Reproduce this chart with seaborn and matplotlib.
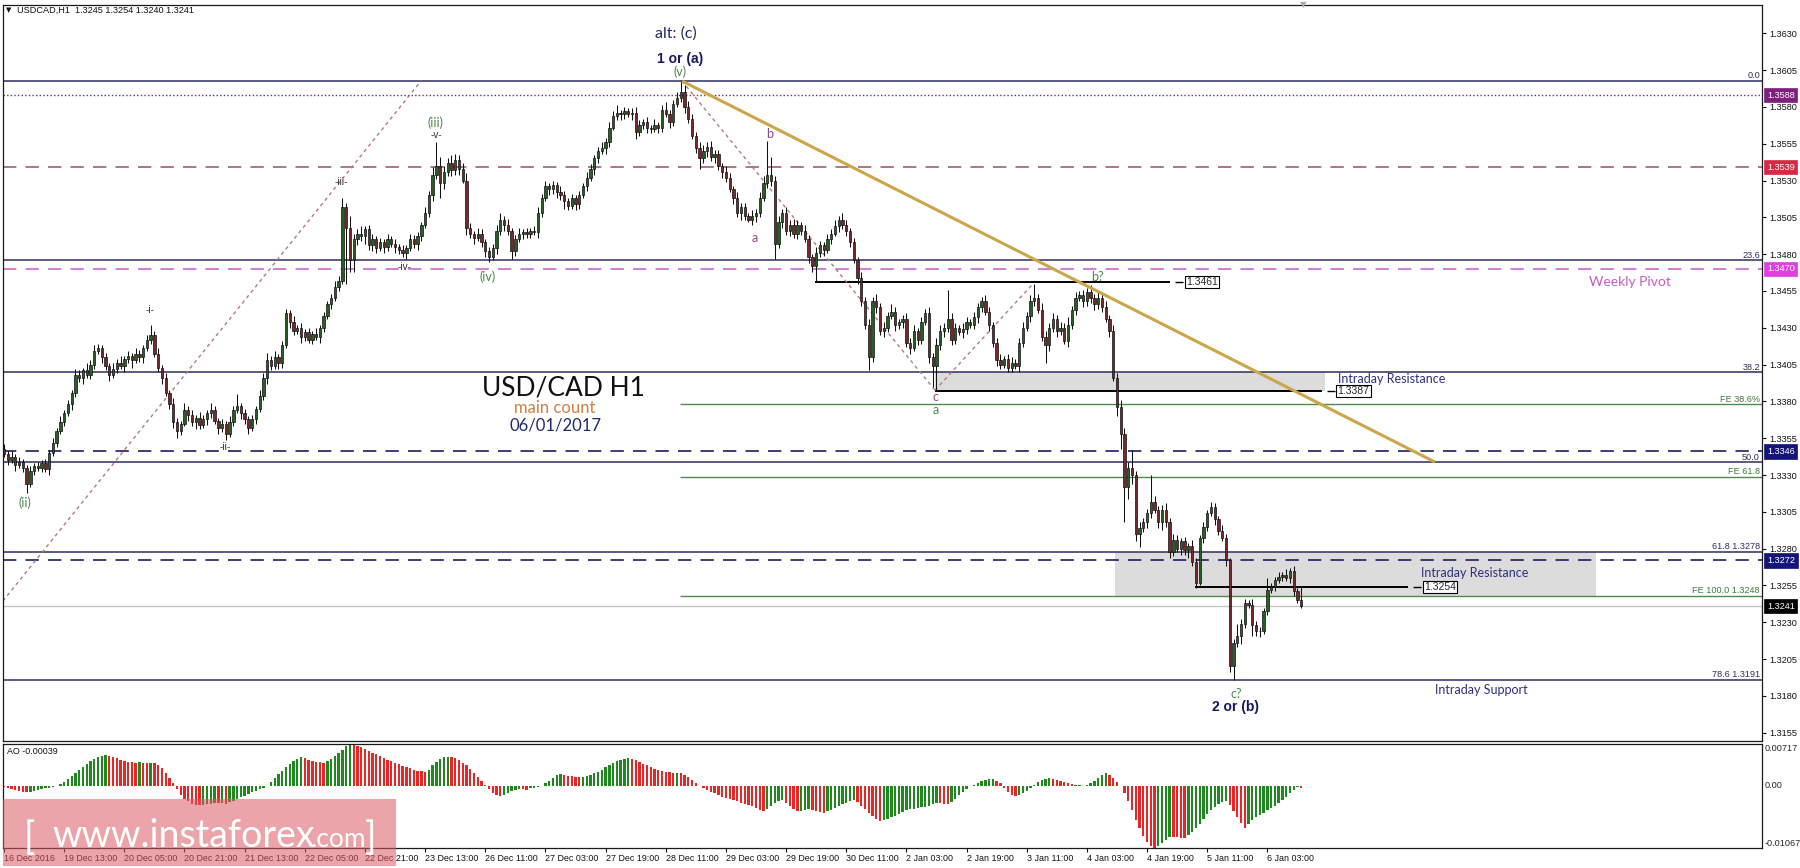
import numpy as np
import pandas as pd
import matplotlib
matplotlib.use("Agg")
import matplotlib.pyplot as plt
import matplotlib.transforms as mtransforms
from matplotlib.patches import Rectangle
import seaborn as sns

sns.set_theme(style="ticks")
plt.rcParams["font.family"] = ["Liberation Sans", "DejaVu Sans"]

# ---------------- data: H1 candles, prices as pips above 1.3000 ----------------
open_first = 348
close_pips = [
    344, 340, 342, 337, 339, 335, 324, 333, 336, 335,
    338, 334, 345, 352, 360, 366, 372, 378, 386, 398,
    396, 401, 398, 405, 414, 416, 410, 404, 398, 402,
    406, 404, 409, 411, 408, 412, 410, 416, 422, 425,
    412, 403, 396, 386, 378, 366, 360, 365, 374, 371,
    366, 369, 364, 368, 372, 374, 367, 362, 365, 358,
    366, 374, 377, 372, 368, 362, 368, 375, 384, 396,
    408, 404, 410, 406, 418, 440, 434, 428, 430, 424,
    427, 422, 426, 424, 430, 438, 446, 450, 458, 462,
    512, 498, 476, 490, 494, 492, 497, 486, 490, 484,
    488, 485, 490, 487, 485, 483, 481, 484, 490, 487,
    492, 500, 508, 520, 534, 540, 528, 536, 542, 537,
    544, 538, 530, 498, 494, 491, 494, 488, 482, 478,
    484, 496, 503, 500, 496, 482, 490, 494, 495, 494,
    496, 495, 508, 518, 526, 524, 527, 522, 520, 516,
    513, 518, 514, 520, 526, 532, 538, 545, 550, 552,
    556, 566, 574, 576, 575, 577, 575, 576, 563, 568,
    570, 566, 565, 568, 566, 578, 575, 570, 582, 586,
    590, 580, 572, 560, 552, 545, 550, 553, 546, 548,
    540, 536, 532, 524, 518, 508, 512, 506, 503, 506,
    508, 518, 528, 534, 530, 487, 502, 508, 496, 500,
    494, 500, 496, 490, 478, 472, 481, 486, 483, 490,
    494, 499, 503, 500, 496, 488, 476, 464, 448, 432,
    410, 448, 444, 428, 430, 438, 441, 432, 434, 436,
    420, 416, 428, 422, 434, 440, 410, 404, 418, 428,
    430, 436, 422, 430, 427, 429, 434, 432, 437, 444,
    448, 441, 432, 420, 408, 405, 409, 403, 406, 404,
    420, 430, 438, 448, 450, 442, 424, 418, 430, 436,
    428, 430, 421, 432, 442, 450, 452, 448, 454, 450,
    446, 450, 444, 436, 428, 396, 376, 358, 322, 335,
    330, 290, 294, 298, 304, 312, 306, 298, 306, 298,
    278, 286, 280, 285, 279, 282, 271, 257, 287, 295,
    304, 308, 300, 292, 287, 272, 200, 216, 221, 229,
    243, 242, 228, 224, 224, 238, 252, 254, 259, 261,
    262, 260, 265, 251, 245, 241,
]
wick_up = [
    3, 2, 4, 2, 3, 2, 2, 3, 2, 3,
    2, 3, 2, 3, 2, 4, 2, 3, 2, 4,
    3, 2, 5, 3, 4, 3, 2, 3, 2, 4,
    3, 5, 2, 3, 2, 4, 3, 2, 3, 7,
    3, 4, 2, 3, 2, 4, 3, 2, 5, 3,
    3, 2, 4, 3, 2, 5, 3, 2, 3, 2,
    4, 3, 8, 2, 3, 2, 3, 2, 4, 3,
    5, 3, 4, 2, 3, 3, 2, 4, 2, 3,
    2, 3, 2, 4, 2, 3, 2, 3, 4, 3,
    6, 3, 8, 4, 3, 5, 2, 3, 4, 2,
    3, 2, 4, 2, 3, 2, 3, 2, 4, 3,
    3, 2, 4, 3, 5, 16, 6, 4, 3, 5,
    4, 3, 4, 5, 3, 2, 4, 3, 2, 3,
    3, 4, 5, 3, 4, 2, 3, 4, 2, 3,
    2, 3, 4, 3, 4, 2, 3, 2, 4, 3,
    2, 3, 2, 3, 2, 4, 3, 2, 3, 4,
    3, 4, 3, 5, 2, 3, 2, 3, 4, 3,
    2, 3, 2, 4, 2, 3, 5, 3, 3, 4,
    8, 5, 4, 3, 3, 4, 4, 3, 4, 3,
    3, 2, 4, 3, 2, 4, 3, 3, 2, 4,
    3, 4, 5, 23, 12, 3, 4, 3, 4, 3,
    4, 3, 2, 4, 3, 2, 4, 3, 2, 4,
    3, 4, 3, 5, 3, 2, 3, 2, 4, 3,
    4, 3, 5, 3, 4, 3, 5, 3, 2, 3,
    4, 3, 4, 2, 3, 3, 4, 3, 5, 4,
    3, 20, 4, 3, 2, 4, 3, 2, 4, 3,
    3, 4, 3, 2, 3, 4, 2, 3, 4, 3,
    3, 4, 3, 4, 10, 3, 5, 4, 3, 4,
    3, 4, 3, 5, 3, 4, 3, 4, 3, 5,
    3, 4, 3, 4, 3, 4, 3, 5, 4, 4,
    12, 3, 4, 3, 3, 18, 4, 3, 4, 5,
    3, 4, 3, 2, 3, 2, 4, 3, 2, 3,
    2, 4, 3, 2, 4, 3, 2, 3, 8, 3,
    3, 2, 4, 3, 3, 2, 8, 3, 2, 3,
    2, 4, 2, 3, 2, 9,
]
wick_dn = [
    2, 3, 2, 4, 2, 3, 6, 2, 3, 2,
    3, 2, 4, 2, 3, 2, 3, 2, 4, 3,
    3, 4, 2, 3, 3, 2, 4, 3, 4, 2,
    3, 2, 4, 3, 5, 2, 3, 4, 2, 3,
    2, 3, 4, 2, 3, 4, 5, 3, 2, 4,
    3, 5, 3, 2, 4, 3, 2, 4, 3, 4,
    2, 3, 2, 4, 3, 4, 2, 3, 2, 3,
    4, 3, 2, 4, 3, 2, 4, 3, 2, 4,
    3, 2, 3, 2, 4, 3, 2, 3, 2, 3,
    2, 38, 8, 8, 4, 3, 5, 3, 4, 3,
    2, 4, 3, 2, 4, 3, 3, 4, 2, 3,
    4, 3, 2, 3, 4, 3, 10, 4, 3, 4,
    3, 4, 2, 5, 3, 4, 2, 3, 4, 3,
    2, 4, 3, 4, 3, 5, 3, 2, 4, 3,
    3, 2, 4, 3, 2, 4, 3, 4, 3, 5,
    3, 2, 4, 3, 2, 3, 2, 4, 3, 2,
    4, 3, 2, 3, 4, 3, 2, 4, 5, 3,
    3, 4, 3, 2, 4, 3, 2, 4, 3, 2,
    3, 4, 3, 2, 3, 7, 3, 4, 3, 4,
    3, 4, 3, 2, 4, 3, 5, 3, 1, 3,
    4, 3, 2, 3, 4, 10, 3, 4, 3, 4,
    3, 4, 3, 2, 4, 4, 11, 3, 4, 2,
    3, 2, 4, 3, 4, 3, 2, 4, 3, 3,
    9, 3, 4, 3, 4, 3, 2, 4, 3, 4,
    3, 4, 2, 4, 3, 2, 4, 14, 17, 3,
    4, 3, 4, 3, 2, 4, 3, 2, 3, 4,
    3, 2, 4, 3, 4, 3, 2, 3, 3, 2,
    4, 3, 2, 4, 3, 2, 3, 12, 4, 3,
    4, 3, 2, 4, 3, 3, 2, 4, 3, 3,
    4, 3, 3, 2, 4, 2, 6, 10, 24, 8,
    6, 5, 9, 3, 4, 3, 2, 4, 5, 3,
    4, 3, 2, 4, 3, 5, 3, 4, 2, 3,
    3, 2, 4, 3, 2, 4, 4, 9, 3, 6,
    3, 2, 7, 3, 4, 2, 3, 2, 3, 2,
    3, 2, 3, 3, 2, 1,
]
# Awesome Oscillator, units of 0.00001
ao_pts = [
    -20, -40, -60, -80, -95, -105, -110, -100, -85, -70,
    -55, -45, -30, -15, 0, 30, 70, 120, 170, 220,
    280, 330, 380, 420, 460, 490, 515, 530, 520, 500,
    475, 450, 430, 415, 405, 400, 402, 398, 396, 400,
    395, 360, 300, 220, 130, 40, -60, -150, -220, -270,
    -310, -330, -335, -325, -315, -310, -300, -302, -295, -305,
    -285, -260, -230, -200, -170, -140, -115, -90, -60, -30,
    0, 60, 130, 200, 260, 320, 370, 420, 460, 490,
    470, 445, 425, 410, 405, 400, 420, 460, 510, 560,
    620, 680, 717, 710, 690, 660, 630, 600, 570, 540,
    510, 480, 450, 420, 395, 370, 345, 320, 300, 280,
    262, 248, 235, 280, 350, 410, 460, 490, 500, 490,
    470, 440, 400, 350, 290, 220, 150, 80, 10, -60,
    -120, -160, -175, -150, -120, -90, -70, -55, -60, -65,
    -45, -30, -15, 5, 40, 90, 140, 180, 195, 185,
    170, 160, 150, 148, 155, 170, 190, 215, 245, 280,
    320, 360, 400, 430, 450, 465, 470, 460, 440, 410,
    380, 350, 320, 295, 275, 260, 245, 232, 222, 228,
    220, 190, 150, 100, 50, 5, -40, -70, -100, -130,
    -160, -185, -210, -230, -250, -270, -290, -310, -330, -355,
    -380, -410, -430, -400, -350, -300, -260, -240, -290, -350,
    -400, -430, -425, -415, -400, -420, -440, -455, -460, -440,
    -410, -380, -350, -320, -290, -265, -245, -280, -340, -400,
    -460, -520, -570, -600, -590, -570, -545, -515, -480, -450,
    -420, -405, -392, -380, -370, -360, -345, -320, -290, -300,
    -310, -315, -280, -220, -160, -100, -50, -10, 20, 50,
    75, 95, 110, 118, 90, 40, -30, -100, -150, -175,
    -160, -130, -90, -40, 10, 60, 100, 125, 130, 120,
    100, 80, 60, 40, 25, 15, 10, 5, 8, 40,
    90, 140, 185, 212, 190, 130, 60, 0, -120, -260,
    -420, -580, -730, -860, -960, -1030, -1067, -1040, -990, -940,
    -880, -885, -888, -890, -893, -850, -790, -720, -650, -570,
    -490, -420, -360, -310, -280, -270, -330, -430, -540, -640,
    -720, -650, -590, -540, -500, -460, -420, -380, -340, -300,
    -250, -190, -130, -75, -25, -39,
]
time_labels = ["16 Dec 2016", "19 Dec 13:00", "20 Dec 05:00", "20 Dec 21:00", "21 Dec 13:00",
               "22 Dec 05:00", "22 Dec 21:00", "23 Dec 13:00", "26 Dec 11:00", "27 Dec 03:00",
               "27 Dec 19:00", "28 Dec 11:00", "29 Dec 03:00", "29 Dec 19:00", "30 Dec 11:00",
               "2 Jan 03:00", "2 Jan 19:00", "3 Jan 11:00", "4 Jan 03:00", "4 Jan 19:00",
               "5 Jan 11:00", "6 Jan 03:00"]
price_ticks = [1.3155, 1.3180, 1.3205, 1.3230, 1.3255, 1.3280, 1.3305, 1.3330, 1.3355, 1.3380,
               1.3405, 1.3430, 1.3455, 1.3480, 1.3505, 1.3530, 1.3555, 1.3580, 1.3605, 1.3630]

# levels
fib_levels = [1.35976, 1.34758, 1.33998, 1.33388, 1.32780, 1.31910]
fib_labels = ["0.0", "23.6", "38.2", "50.0", "61.8 1.3278", "78.6 1.3191"]
fe_levels = [1.33780, 1.33290, 1.32480]
fe_labels = ["FE 38.6%", "FE 61.8", "FE 100.0 1.3248"]
fe_start_bar = 179.8
dashed_levels = [1.3539, 1.3470, 1.3346, 1.3272]
dashed_colors = ["#a0606e", "#c86ac8", "#1c1c64", "#1c1c64"]
dotted_level = 1.3588
last_price = 1.3241
axis_marks = [1.3588, 1.3539, 1.3470, 1.3346, 1.3272, 1.3241]
axis_mark_colors = ["#7d1f7d", "#d42a46", "#e040e0", "#14147a", "#14147a", "#000000"]
sr_levels = [1.3461, 1.3387, 1.3254]
sr_from = [215.7, 247.6, 316.8]
sr_to = [310.1, 350.5, 373.4]
zones_lo = [1.3387, 1.3248]
zones_hi = [1.3400, 1.3278]
zones_from = [247.6, 295.5]
zones_to = [351.3, 423.4]
trend_bars = [180.3, 380.6]
trend_prices = [1.35976, 1.33388]
wave_bars = [[-0.3, 110.9], [180.3, 247.6], [247.6, 273.7]]
wave_prices = [[1.32444, 1.35976], [1.35976, 1.33876], [1.33876, 1.34600]]

# ---------------- derived OHLC ----------------
n = len(close_pips)
idx = np.arange(n)
close = 1.3 + np.array(close_pips) / 1e4
open_ = np.r_[1.3 + open_first / 1e4, close[:-1]]
high = np.maximum(open_, close) + np.array(wick_up) / 1e4
low = np.minimum(open_, close) - np.array(wick_dn) / 1e4
bull = close >= open_

W, H = 1800, 868
fig = plt.figure(figsize=(W / 100, H / 100), dpi=100)
fig.patch.set_facecolor("white")
ax = fig.add_axes([3 / W, 1 - 741 / H, 1759 / W, 736 / H])
ax2 = fig.add_axes([3 / W, 1 - 848 / H, 1759 / W, 104 / H])
XMIN, XMAX = -0.27, 467.55

NAVY = "#23256a"
GREEN_TXT = "#4a8a4a"
PURPLE_TXT = "#8a4a8a"

# zones and levels
for lo_, hi_, a, b in zip(zones_lo, zones_hi, zones_from, zones_to):
    ax.add_patch(Rectangle((a, lo_), b - a, hi_ - lo_, fc="#dcdcdc", ec="none", zorder=0.5))
for lv in fib_levels:
    ax.axhline(lv, color="#2e2e5e", lw=1.1, zorder=1)
for lv in fe_levels:
    ax.hlines(lv, fe_start_bar, XMAX, color="#4f8a4f", lw=1.0, zorder=1)
for lv, c in zip(dashed_levels, dashed_colors):
    ax.axhline(lv, color=c, lw=1.2, dashes=(8, 5.5), zorder=1)
ax.axhline(dotted_level, color="#7a2a6a", lw=1.0, ls=(0, (1, 1.6)), zorder=1)
ax.axhline(last_price, color="#c4c4c4", lw=1.0, zorder=1)

# support / resistance segments with price boxes
for lv, a, b in zip(sr_levels, sr_from, sr_to):
    ax.hlines(lv, a, b, color="black", lw=1.4, zorder=2)
    ax.hlines(lv, b + 1.4, b + 3.5, color="black", lw=1.0, zorder=2)
    ax.text(b + 4.2, lv, f"{lv:.4f}", fontsize=7.5, ha="left", va="center", zorder=6,
            bbox=dict(boxstyle="square,pad=0.12", fc="white", ec="black", lw=0.8))

# wave dotted lines and trendline
for bx, py in zip(wave_bars, wave_prices):
    ax.plot(bx, py, color="#b57a7a", lw=1.0, ls=(0, (2.5, 2.5)), zorder=2)
ax.plot(trend_bars, trend_prices, color="#cca64a", lw=2.2, zorder=4, solid_capstyle="butt")

# candles
ax.vlines(idx, low, high, color="#111111", lw=0.75, zorder=3)
body_lo = np.minimum(open_, close)
body_h = np.maximum(np.abs(close - open_), 0.00003)
ax.bar(idx, body_h, bottom=body_lo, width=0.62,
       color=np.where(bull, "#275f27", "#742a2a"), edgecolor="#111111", linewidth=0.5, zorder=3.5)

ax.set_xlim(XMIN, XMAX)
ax.set_ylim(1.31494, 1.36492)
ax.set_xticks([])
ax.yaxis.tick_right()
ax.set_yticks(price_ticks)
ax.set_yticklabels([f"{t:.4f}" for t in price_ticks])
ax.tick_params(axis="y", direction="out", length=3, width=0.8, labelsize=6.6, pad=2,
               right=True, left=False, colors="#111111")

# fib / FE labels
blend = mtransforms.blended_transform_factory(ax.transAxes, ax.transData)
for lv, t in zip(fib_levels, fib_labels):
    ax.text(1 - 2 / 1759, lv + 0.00004, t, transform=blend, ha="right", va="bottom",
            fontsize=6.6, color="#2e2e5e", zorder=6)
for lv, t in zip(fe_levels, fe_labels):
    ax.text(1 - 2 / 1759, lv + 0.00004, t, transform=blend, ha="right", va="bottom",
            fontsize=6.6, color="#3f7a3f", zorder=6)
for lv, c in zip(axis_marks, axis_mark_colors):
    ax.text(1 + 5 / 1759, lv, f"{lv:.4f}", transform=blend, ha="left", va="center",
            fontsize=6.6, color="white", zorder=7, clip_on=False,
            bbox=dict(boxstyle="square,pad=0.28", fc=c, ec=c, lw=0.5))

# ---------------- AO pane ----------------
ao = np.array(ao_pts)
rising = np.r_[False, ao[1:] > ao[:-1]]
ao_df = pd.DataFrame({"bar": idx, "ao": ao, "dir": np.where(rising, "up", "down")})
sns.barplot(data=ao_df, x="bar", y="ao", hue="dir", palette={"up": "#1e8a1e", "down": "#ec2424"},
            native_scale=True, dodge=False, width=0.62, errorbar=None, legend=False,
            saturation=1, linewidth=0, ax=ax2)
ax2.set_xlim(XMIN, XMAX)
ax2.set_ylim(-1070, 719)
ax2.set_xlabel("")
ax2.set_ylabel("")
ax2.set_yticks([])
ax2.set_xticks([16 * k for k in range(len(time_labels))])
ax2.set_xticklabels(time_labels, ha="left", fontsize=6.4)
ax2.tick_params(axis="x", direction="out", length=3, width=0.8, pad=1.5, colors="#111111")
blend2 = mtransforms.blended_transform_factory(ax2.transAxes, ax2.transData)
ax2.text(1 + 3 / 1759, 717, "0.00717", transform=blend2, ha="left", va="top", fontsize=6.6, clip_on=False)
ax2.text(1 + 3 / 1759, 0, "0.00", transform=blend2, ha="left", va="center", fontsize=6.6, clip_on=False)
ax2.text(1 + 3 / 1759, -1067, "-0.01067", transform=blend2, ha="left", va="bottom", fontsize=6.6, clip_on=False)

for a in (ax, ax2):
    for s in a.spines.values():
        s.set_color("#1a1a1a")
        s.set_linewidth(0.9)

# ---------------- annotations (pixel layout) ----------------
def ftext(x, y, s, **kw):
    return fig.text(x / W, 1 - y / H, s, **kw)

ftext(9, 10, "\u25bc", fontsize=5, ha="center", va="center", color="#111111",
      family=["DejaVu Sans"])
ftext(17, 10, "USDCAD,H1  1.3245 1.3254 1.3240 1.3241", fontsize=6.6, ha="left", va="center", color="#111111")
ftext(1303, 5, "\u25bc", fontsize=6, ha="center", va="center", color="#a8a8a8", family=["DejaVu Sans"])
ftext(7, 752, "AO -0.00039", fontsize=6.4, ha="left", va="center", color="#111111")

ftext(676, 34, "alt: (c)", fontsize=11.5, ha="center", va="center", color="#1f2a6b", family=["Lato", "DejaVu Sans"])
ftext(680, 59, "1 or (a)", fontsize=10, ha="center", va="center", color="#141a5a", weight="bold")
ftext(1236, 707, "2 or (b)", fontsize=10, ha="center", va="center", color="#141a5a", weight="bold")

wave_txt = [("(v)", 680, 72, GREEN_TXT), ("(iii)", 435, 123, GREEN_TXT), ("(iv)", 488, 277, GREEN_TXT),
            ("(ii)", 25, 503, GREEN_TXT), ("b?", 1097, 277, GREEN_TXT), ("a", 936, 410, GREEN_TXT),
            ("c?", 1236, 694, GREEN_TXT), ("b", 770, 134, PURPLE_TXT), ("a", 755, 238, PURPLE_TXT),
            ("c", 935, 397, PURPLE_TXT)]
for s, x, y, c in wave_txt:
    ftext(x, y, s, fontsize=9, ha="center", va="center", color=c, family=["Lato", "DejaVu Sans"])
minor_txt = [("-v-", 436, 135), ("-iii-", 341, 182), ("-iv-", 405, 267), ("-i-", 150, 310), ("-ii-", 225, 447)]
for s, x, y in minor_txt:
    ftext(x, y, s, fontsize=7.2, ha="center", va="center", color="#333333")

ftext(563, 388, "USD/CAD H1", fontsize=19, ha="center", va="center", color="#111111", family=["Lato", "DejaVu Sans"])
ftext(555, 408, "main count", fontsize=12, ha="center", va="center", color="#cf7e45", family=["Lato", "DejaVu Sans"])
ftext(555, 425, "06/01/2017", fontsize=12, ha="center", va="center", color="#202a70", family=["Lato", "DejaVu Sans"])
ftext(1630, 282, "Weekly Pivot", fontsize=10, ha="center", va="center", color="#c35cc3", family=["Lato", "DejaVu Sans"])
ftext(1338, 379, "Intraday Resistance", fontsize=9, ha="left", va="center", color="#2c2f7a", family=["Lato", "DejaVu Sans"])
ftext(1421, 573, "Intraday Resistance", fontsize=9, ha="left", va="center", color="#2c2f7a", family=["Lato", "DejaVu Sans"])
ftext(1435, 690, "Intraday Support", fontsize=9, ha="left", va="center", color="#2c2f7a", family=["Lato", "DejaVu Sans"])

# watermark
wm_box = Rectangle((3 / W, 1 - 866 / H), 393 / W, 67 / H, transform=fig.transFigure,
                   fc="#dc5a64", ec="none", alpha=0.55, zorder=20)
fig.add_artist(wm_box)
wm = dict(color="white", va="baseline", family=["Lato", "DejaVu Sans"], zorder=30)
ftext(24, 849, "[", fontsize=27, ha="left", **wm)
ftext(52, 847, "www.instaforex", fontsize=27, ha="left", **wm)
ftext(311, 847, ".com", fontsize=19, ha="left", **wm)
ftext(365, 849, "]", fontsize=27, ha="left", **wm)

fig.savefig("out.png", dpi=100, facecolor="white")
